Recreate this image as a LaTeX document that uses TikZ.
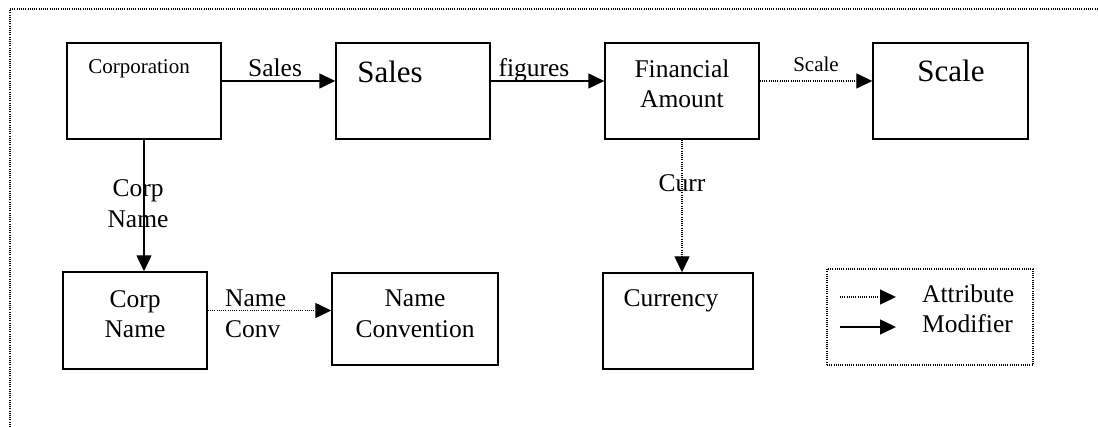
\documentclass[tikz,border=0pt]{standalone}
\usepackage{fontspec}
\setmainfont{Liberation Serif}
\usetikzlibrary{arrows.meta}
\begin{document}
\begin{tikzpicture}[x=1pt,y=-1pt,
  box/.style={draw, line width=1.4pt, inner sep=0pt},
  tip/.style={-{Triangle[length=16pt,width=15pt]}},
  modifier/.style={tip, line width=1.4pt},
  attribute/.style={tip, line width=1.3pt, dash pattern=on 1pt off 1.2pt},
  frame/.style={line width=1.3pt, dash pattern=on 1pt off 1.2pt},
  txt/.style={inner sep=0pt, anchor=base, font=\fontsize{25.5}{30}\selectfont},
  big/.style={txt, font=\fontsize{31}{36}\selectfont},
  small/.style={txt, font=\fontsize{21}{25}\selectfont}]
\useasboundingbox (0,0) rectangle (1098,427);

% page frame
\coordinate (fbl) at (10,427);
\coordinate (ftl) at (10,9);
\coordinate (ftr) at (1098,9);
\draw[frame] (fbl) -- (ftl) -- (ftr);

% boxes
\node[box, minimum width=154pt, minimum height=96pt] (corp)  at (144,91) {};
\node[box, minimum width=154pt, minimum height=96pt] (sales) at (413,91) {};
\node[box, minimum width=154pt, minimum height=96pt] (fin)   at (682,91) {};
\node[box, minimum width=155pt, minimum height=96pt] (scale) at (950.5,91) {};
\node[box, minimum width=144pt, minimum height=97pt] (cname) at (135,320.5) {};
\node[box, minimum width=166pt, minimum height=92pt] (nconv) at (415,319) {};
\node[box, minimum width=150pt, minimum height=96pt] (cur)   at (678,321) {};
\node[draw, frame, inner sep=0pt, minimum width=206pt, minimum height=96pt] (legend) at (930,317) {};

% box texts
\node[small] (tcorp)  at (139,74)  {Corporation};
\node[big]   (tsales) at (390,83)  {Sales};
\node[txt]   (tfin1)  at (682,78)  {Financial};
\node[txt]   (tfin2)  at (682,108) {Amount};
\node[big]   (tscale) at (951,82)  {Scale};
\node[txt]   (tcn1)   at (135,308) {Corp};
\node[txt]   (tcn2)   at (135,338) {Name};
\node[txt]   (tnc1)   at (415,307) {Name};
\node[txt]   (tnc2)   at (415,338) {Convention};
\node[txt]   (tcur)   at (671,307) {Currency};

% connectors
\draw[modifier] ([yshift=10pt]corp.east) -- ([yshift=10pt]sales.west);
\draw[modifier] ([yshift=10pt]sales.east) -- ([yshift=10pt]fin.west);
\draw[attribute] ([yshift=10pt]fin.east) -- ([yshift=10pt]scale.west);
\draw[modifier] (corp.south) -- (corp.south |- cname.north);
\draw[attribute] (fin.south) -- (fin.south |- cur.north);
\draw[attribute] ([yshift=10pt]cname.east) -- ([yshift=10pt]cname.east -| nconv.west);

% connector labels
\node[txt]   (lsales) at (275,77)  {Sales};
\node[txt]   (lfig)   at (534,77)  {figures};
\node[small] (lscale) at (816,72)  {Scale};
\node[txt]   (lcorp1) at (138,197) {Corp};
\node[txt]   (lcorp2) at (138,228) {Name};
\node[txt]   (lcurr)  at (682,192) {Curr};
\node[txt, anchor=base west] (lname1) at (225,307) {Name};
\node[txt, anchor=base west] (lname2) at (225,338) {Conv};

% legend
\coordinate (la1) at (840,297);
\coordinate (la2) at (896,297);
\coordinate (lm1) at (840,327);
\coordinate (lm2) at (896,327);
\draw[attribute] (la1) -- (la2);
\draw[modifier] (lm1) -- (lm2);
\node[txt, anchor=base west] (latt) at (922,303) {Attribute};
\node[txt, anchor=base west] (lmod) at (922,333) {Modifier};
\end{tikzpicture}
\end{document}
